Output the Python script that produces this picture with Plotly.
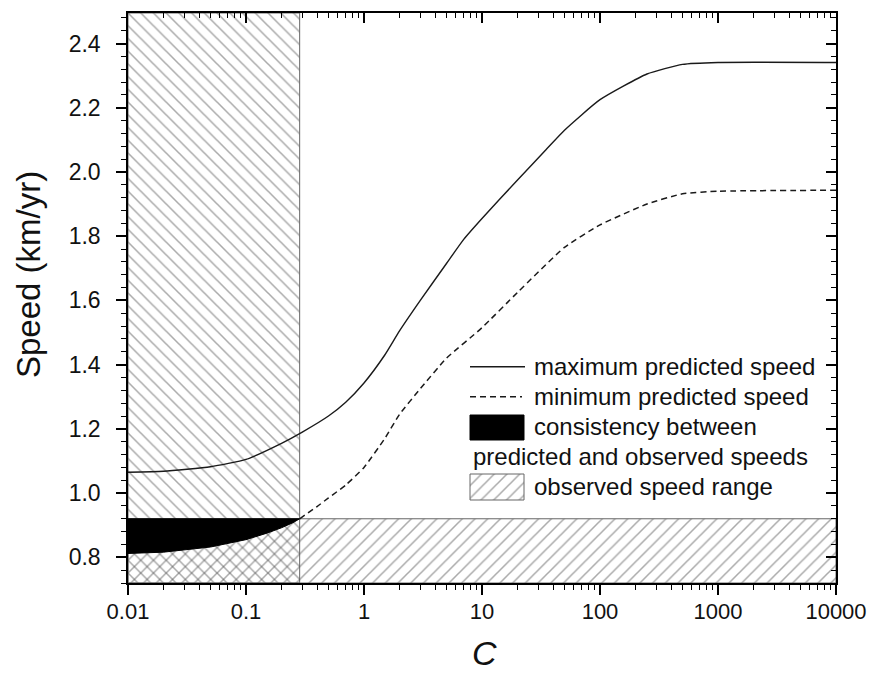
import math
import plotly.graph_objects as go

# ---------------- data ----------------
C_max = [0.01, 0.02, 0.05, 0.1, 0.2, 0.3, 0.5, 0.7, 1, 1.5, 2, 3, 5, 7, 10, 20, 35, 50, 100, 250, 500, 1000, 10000]
speed_max = [1.065, 1.068, 1.082, 1.105, 1.155, 1.19, 1.24, 1.283, 1.343, 1.43, 1.505, 1.60, 1.715, 1.79,
             1.855, 1.975, 2.07, 2.13, 2.225, 2.305, 2.335, 2.341, 2.341]

C_min = [0.285, 0.4, 0.5, 0.7, 1, 1.5, 2, 3, 5, 10, 20, 50, 100, 250, 500, 1000, 10000]
speed_min = [0.92, 0.958, 0.985, 1.025, 1.08, 1.17, 1.245, 1.325, 1.42, 1.515, 1.625, 1.765, 1.835, 1.90,
             1.932, 1.94, 1.943]

C_cons = [0.01, 0.02, 0.05, 0.1, 0.15, 0.2, 0.25, 0.285]
speed_cons_low = [0.812, 0.816, 0.832, 0.855, 0.875, 0.892, 0.908, 0.92]

C_limit = 0.285                  # upper C bound of the left (excluded) region
obs_low, obs_high = 0.72, 0.92   # observed speed range
x_range = [0.01, 10000]
y_range = [0.72, 2.495]

x_tickvals = [0.01, 0.1, 1, 10, 100, 1000, 10000]
x_ticktext = ["0.01", "0.1", "1", "10", "100", "1000", "10000"]
y_tickvals = [0.8, 1.0, 1.2, 1.4, 1.6, 1.8, 2.0, 2.2, 2.4]

legend_labels = ["maximum predicted speed", "minimum predicted speed",
                 "consistency between", "predicted and observed speeds", "observed speed range"]

# ---------------- layout geometry ----------------
W, H = 873, 675
ML, MR, MT, MB = 128, 37, 13, 92
PW = W - ML - MR
PH = H - MT - MB


def px(xp):
    return (xp - ML) / PW


def py(yp):
    return (H - MB - yp) / PH


FONT = "Liberation Sans, Arial, sans-serif"
HATCH = "#555555"
HATCH_PAT = dict(fgcolor=HATCH, bgcolor="rgba(0,0,0,0)", size=9, solidity=0.17)

minor_x = [k * 10 ** e for e in range(-2, 4) for k in range(2, 10)]

fig = go.Figure()

# left region (hatched "\")
fig.add_trace(go.Scatter(
    x=[x_range[0], C_limit, C_limit, x_range[0], x_range[0]],
    y=[y_range[0], y_range[0], y_range[1], y_range[1], y_range[0]],
    mode="lines", fill="toself", fillcolor="rgba(0,0,0,0)",
    fillpattern=dict(shape="\\", **HATCH_PAT),
    line=dict(color="#666666", width=1), showlegend=False, hoverinfo="skip"))

# observed speed range (hatched "/")
fig.add_trace(go.Scatter(
    x=[x_range[0], x_range[1], x_range[1], x_range[0], x_range[0]],
    y=[obs_low, obs_low, obs_high, obs_high, obs_low],
    mode="lines", fill="toself", fillcolor="rgba(0,0,0,0)",
    fillpattern=dict(shape="/", **HATCH_PAT),
    line=dict(color="#666666", width=1), showlegend=False, hoverinfo="skip"))

# consistency region (black)
fig.add_trace(go.Scatter(
    x=C_cons + [C_cons[0]], y=speed_cons_low + [obs_high],
    mode="lines", fill="toself", fillcolor="black",
    line=dict(color="black", width=1), showlegend=False, hoverinfo="skip"))

# curves
fig.add_trace(go.Scatter(x=C_max, y=speed_max, mode="lines",
                         line=dict(color="#1a1a1a", width=1.4, shape="spline", smoothing=0.5),
                         showlegend=False))
fig.add_trace(go.Scatter(x=C_min, y=speed_min, mode="lines",
                         line=dict(color="#1a1a1a", width=1.5, dash="6px,4px", shape="spline", smoothing=0.5),
                         showlegend=False))

# dummy trace for mirrored inside ticks
fig.add_trace(go.Scatter(x=[None], y=[None], xaxis="x2", yaxis="y2", showlegend=False, hoverinfo="skip"))

# hatched legend swatch on a hidden plot-fraction axis pair
sx0, sx1, sy0, sy1 = px(470), px(524), py(500), py(474)
fig.add_trace(go.Scatter(
    x=[sx0, sx1, sx1, sx0, sx0], y=[sy0, sy0, sy1, sy1, sy0], xaxis="x3", yaxis="y3",
    mode="lines", fill="toself", fillcolor="rgba(0,0,0,0)",
    fillpattern=dict(shape="/", **HATCH_PAT),
    line=dict(color="#666666", width=1), showlegend=False, hoverinfo="skip"))

shapes = [
    dict(type="line", xref="paper", yref="paper", x0=px(470), x1=px(525), y0=py(366.7), y1=py(366.7),
         line=dict(color="#1a1a1a", width=1.4)),
    dict(type="line", xref="paper", yref="paper", x0=px(470), x1=px(522), y0=py(396.7), y1=py(396.7),
         line=dict(color="#1a1a1a", width=1.5, dash="6px,4px")),
    dict(type="rect", xref="paper", yref="paper", x0=px(470), x1=px(524), y0=py(440), y1=py(415),
         fillcolor="black", line=dict(color="black", width=1)),
]

row_y = [366.7, 396.7, 426.7, 456.5, 486.7]
row_x = [531.5, 531.5, 531.5, 471, 531.5]
annotations = []
for lab, yy, xx in zip(legend_labels, row_y, row_x):
    annotations.append(dict(text=lab, xref="paper", yref="paper", x=px(xx), y=py(yy),
                            xanchor="left", yanchor="middle", showarrow=False,
                            font=dict(family=FONT, size=24, color="#111")))
annotations.append(dict(text="Speed (km/yr)", xref="paper", yref="paper", x=px(28), y=py(275),
                        xanchor="center", yanchor="middle", textangle=-90, showarrow=False,
                        font=dict(family=FONT, size=33, color="#111")))
annotations.append(dict(text="<i>C</i>", xref="paper", yref="paper", x=px(484), y=py(653),
                        xanchor="center", yanchor="middle", showarrow=False,
                        font=dict(family=FONT, size=34, color="#111")))

lx = [math.log10(v) for v in x_range]

axis_common = dict(showgrid=False, zeroline=False, linecolor="black", linewidth=1.5,
                   tickcolor="black", tickwidth=1.5, automargin=False)

fig.update_layout(
    width=W, height=H,
    margin=dict(l=ML, r=MR, t=MT, b=MB, pad=0, autoexpand=False),
    paper_bgcolor="white", plot_bgcolor="white",
    font=dict(family=FONT, size=22, color="#111"),
    showlegend=False,
    xaxis=dict(type="log", range=lx, tickvals=x_tickvals, ticktext=x_ticktext,
               ticks="outside", ticklen=10, showline=True, mirror=True,
               ticklabelstandoff=-2, ticklabeloverflow="allow",
               minor=dict(tickvals=minor_x, ticks="outside", ticklen=5, tickcolor="black", tickwidth=1.3),
               tickfont=dict(size=22), **axis_common),
    yaxis=dict(range=y_range, tickvals=y_tickvals, tickformat=".1f",
               ticks="outside", ticklen=10, showline=True, mirror=True,
               ticklabelstandoff=11,
               minor=dict(dtick=0.04, tick0=0.8, ticks="outside", ticklen=5, tickcolor="black", tickwidth=1.3),
               tickfont=dict(size=23), **axis_common),
    xaxis2=dict(type="log", range=lx, overlaying="x", side="top", anchor="y",
                tickvals=x_tickvals, ticks="inside", ticklen=10, showticklabels=False, showline=True,
                minor=dict(tickvals=minor_x, ticks="inside", ticklen=5, tickcolor="black", tickwidth=1.3),
                **axis_common),
    yaxis2=dict(range=y_range, overlaying="y", side="right", anchor="x",
                tickvals=y_tickvals, ticks="inside", ticklen=10, showticklabels=False, showline=True,
                minor=dict(dtick=0.04, tick0=0.8, ticks="inside", ticklen=5, tickcolor="black", tickwidth=1.3),
                **axis_common),
    xaxis3=dict(range=[0, 1], overlaying="x", visible=False, anchor="y3"),
    yaxis3=dict(range=[0, 1], overlaying="y", visible=False, anchor="x3"),
    shapes=shapes,
    annotations=annotations,
)

fig.write_html("out.html", config={"displayModeBar": False},
               post_script="document.body.style.margin='0px';")
